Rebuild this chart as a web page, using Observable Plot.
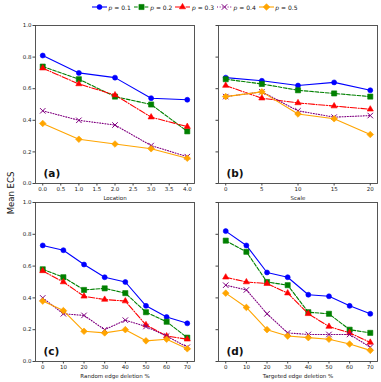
<!DOCTYPE html>
<html>
<head>
<meta charset="utf-8">
<script src="https://cdn.jsdelivr.net/npm/d3@7"></script>
<script src="https://cdn.jsdelivr.net/npm/@observablehq/plot@0.6"></script>
<style>
  body { margin: 0; background: #fff; font-family: "DejaVu Sans", sans-serif; }
  #root { position: relative; width: 381px; height: 382px; overflow: hidden; }
  .panel { position: absolute; }
  #ylabel { position: absolute; left: 11px; top: 193px; transform: translate(-50%, -50%) rotate(-90deg); font-size: 8.5px; white-space: nowrap; color: #111; }
  #legend { position: absolute; left: 92px; top: 3px; display: flex; align-items: center; font-size: 6px; color: #111; }
  .item { display: flex; align-items: center; margin-right: 3px; }
  .item svg { margin-right: 1.5px; }
</style>
</head>
<body>
<div id="root">
  <div id="legend"></div>
  <div id="ylabel">Mean ECS</div>
</div>
<script>
// ---- data ----
const pLabels = ["0.1", "0.2", "0.3", "0.4", "0.5"];
const seriesColors = ["blue", "green", "red", "purple", "orange"];
const seriesSymbols = ["circle", "square", "triangle", "times", "diamond2"];
const seriesDashes = [null, "3.7,1.6", "6.4,1.6,1,1.6", "1,1.65", null];

const panelTags = ["(a)", "(b)", "(c)", "(d)"];
const xLabels = ["Location", "Scale", "Random edge deletion %", "Targeted edge deletion %"];

const locationX = [0, 1, 2, 3, 4];
const locationTicks = [0, 0.5, 1, 1.5, 2, 2.5, 3, 3.5, 4];
const locP1 = [0.81, 0.70, 0.67, 0.54, 0.53];
const locP2 = [0.74, 0.66, 0.55, 0.50, 0.33];
const locP3 = [0.73, 0.63, 0.56, 0.42, 0.36];
const locP4 = [0.46, 0.40, 0.37, 0.24, 0.17];
const locP5 = [0.38, 0.28, 0.25, 0.22, 0.16];

const scaleX = [0, 5, 10, 15, 20];
const scaleTicks = [0, 5, 10, 15, 20];
const scaP1 = [0.67, 0.65, 0.62, 0.64, 0.59];
const scaP2 = [0.66, 0.63, 0.59, 0.57, 0.55];
const scaP3 = [0.62, 0.54, 0.51, 0.49, 0.47];
const scaP4 = [0.55, 0.58, 0.46, 0.42, 0.43];
const scaP5 = [0.55, 0.58, 0.44, 0.41, 0.31];

const deletionX = [0, 10, 20, 30, 40, 50, 60, 70];
const deletionTicks = [0, 10, 20, 30, 40, 50, 60, 70];
const rndP1 = [0.73, 0.70, 0.61, 0.53, 0.50, 0.35, 0.28, 0.24];
const rndP2 = [0.58, 0.53, 0.45, 0.46, 0.43, 0.31, 0.25, 0.15];
const rndP3 = [0.57, 0.50, 0.41, 0.39, 0.38, 0.23, 0.16, 0.14];
const rndP4 = [0.40, 0.30, 0.29, 0.20, 0.26, 0.22, 0.16, 0.09];
const rndP5 = [0.38, 0.32, 0.19, 0.18, 0.20, 0.13, 0.14, 0.08];

const tgtP1 = [0.82, 0.73, 0.56, 0.53, 0.42, 0.41, 0.35, 0.30];
const tgtP2 = [0.76, 0.69, 0.50, 0.48, 0.31, 0.30, 0.20, 0.18];
const tgtP3 = [0.53, 0.50, 0.49, 0.43, 0.30, 0.22, 0.18, 0.12];
const tgtP4 = [0.48, 0.45, 0.30, 0.18, 0.17, 0.17, 0.17, 0.09];
const tgtP5 = [0.43, 0.34, 0.20, 0.16, 0.15, 0.14, 0.11, 0.07];

const yTicks = [0, 0.2, 0.4, 0.6, 0.8, 1.0];

// ---- drawing ----
const dotR = [2.5, 2.9, 2.3, 2.6, 3.0];
const frameColor = "#444";

function panel({xs, series, domain, ticks, fmt, tag, xlabel, showY, left, top, width, height, mr, mb}) {
  const marks = [];
  marks.push(Plot.axisY({ticks: yTicks, tickSize: 2.5, tickPadding: 1.5, fontSize: 5.5, label: null,
    stroke: frameColor, fill: "#222", tickFormat: showY ? d3.format(".1f") : () => ""}));
  marks.push(Plot.axisX({ticks, tickSize: 2.5, tickPadding: 1.5, fontSize: 5.5, label: null,
    stroke: frameColor, fill: "#222", tickFormat: fmt}));
  series.forEach((vals, i) => {
    const rows = vals.map((v, j) => ({x: xs[j], y: v}));
    marks.push(Plot.line(rows, {x: "x", y: "y", stroke: seriesColors[i], strokeWidth: 1.1,
      strokeDasharray: seriesDashes[i]}));
    const isStroke = seriesSymbols[i] === "times";
    marks.push(Plot.dot(rows, {x: "x", y: "y", symbol: seriesSymbols[i], r: dotR[i],
      fill: isStroke ? "none" : seriesColors[i], stroke: seriesColors[i], strokeWidth: isStroke ? 1 : 0.6}));
  });
  marks.push(Plot.frame({stroke: frameColor, strokeWidth: 0.9}));
  marks.push(Plot.text([tag], {text: d => d, frameAnchor: "bottom-left", dx: 8, dy: -7, lineAnchor: "bottom",
    textAnchor: "start", fontSize: 10.5, fontWeight: "bold", fill: "#111"}));
  marks.push(Plot.text([xlabel], {text: d => d, frameAnchor: "bottom", dy: 15, lineAnchor: "middle",
    fontSize: 5.5, fill: "#222"}));
  const chart = Plot.plot({
    width, height,
    marginLeft: 35, marginRight: mr, marginTop: 5, marginBottom: mb,
    style: {fontFamily: "DejaVu Sans", fontSize: "5.5px", background: "transparent", overflow: "visible"},
    x: {domain, type: "linear"},
    y: {domain: [0, 1]},
    marks
  });
  const wrap = document.createElement("div");
  wrap.className = "panel";
  wrap.style.left = left + "px";
  wrap.style.top = top + "px";
  wrap.appendChild(chart);
  document.getElementById("root").appendChild(wrap);
}

const f1 = d3.format(".1f");
const f0 = d3.format("d");

panel({xs: locationX, series: [locP1, locP2, locP3, locP4, locP5], domain: [-0.2, 4.2], ticks: locationTicks, fmt: f1,
  tag: panelTags[0], xlabel: xLabels[0], showY: true, left: 0, top: 20, width: 196, height: 183, mr: 2, mb: 20});
panel({xs: scaleX, series: [scaP1, scaP2, scaP3, scaP4, scaP5], domain: [-1, 21], ticks: scaleTicks, fmt: f0,
  tag: panelTags[1], xlabel: xLabels[1], showY: false, left: 183, top: 20, width: 198, height: 183, mr: 4, mb: 20});
panel({xs: deletionX, series: [rndP1, rndP2, rndP3, rndP4, rndP5], domain: [-3.5, 73.5], ticks: deletionTicks, fmt: f0,
  tag: panelTags[2], xlabel: xLabels[2], showY: true, left: 0, top: 197, width: 196, height: 185, mr: 2, mb: 21});
panel({xs: deletionX, series: [tgtP1, tgtP2, tgtP3, tgtP4, tgtP5], domain: [-3.5, 73.5], ticks: deletionTicks, fmt: f0,
  tag: panelTags[3], xlabel: xLabels[3], showY: false, left: 183, top: 197, width: 198, height: 185, mr: 4, mb: 21});

// ---- legend ----
const legend = d3.select("#legend");
pLabels.forEach((p, i) => {
  const item = legend.append("div").attr("class", "item");
  const svg = item.append("svg").attr("width", 15).attr("height", 8);
  svg.append("line").attr("x1", 0).attr("x2", 15).attr("y1", 4).attr("y2", 4)
    .attr("stroke", seriesColors[i]).attr("stroke-width", 1.1)
    .attr("stroke-dasharray", seriesDashes[i]);
  const symMap = {circle: d3.symbolCircle, square: d3.symbolSquare, triangle: d3.symbolTriangle,
    times: d3.symbolTimes, diamond2: d3.symbolDiamond2};
  const isStroke = seriesSymbols[i] === "times";
  svg.append("path").attr("transform", "translate(7.5,4)")
    .attr("d", d3.symbol(symMap[seriesSymbols[i]], Math.PI * dotR[i] * dotR[i])())
    .attr("fill", isStroke ? "none" : seriesColors[i]).attr("stroke", seriesColors[i])
    .attr("stroke-width", isStroke ? 1 : 0.6);
  item.append("span").html("<i>p</i> = " + p);
});
</script>
</body>
</html>
